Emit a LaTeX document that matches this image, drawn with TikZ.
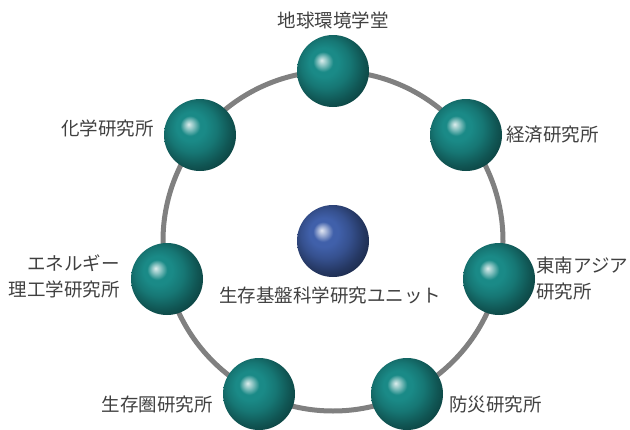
\documentclass[tikz,border=0pt]{standalone}
\usepackage{fontspec}
\setmainfont{Noto Sans CJK JP}
\usetikzlibrary{positioning}
\definecolor{ringgray}{RGB}{128,128,128}
\definecolor{ballteal}{RGB}{26,138,135}
\definecolor{ballblue}{RGB}{64,96,170}
\definecolor{labelgray}{RGB}{64,64,64}
% sphere shadings
\pgfdeclareradialshading{tealball}{\pgfpoint{-8bp}{7.5bp}}{color(0bp)=(ballteal!15!white);color(3bp)=(ballteal!50!white);color(7bp)=(ballteal);color(10bp)=(ballteal);color(17bp)=(ballteal!86!black);color(25bp)=(ballteal!62!black);color(33bp)=(ballteal!42!black);color(50bp)=(ballteal!42!black)}
\pgfdeclareradialshading{blueball}{\pgfpoint{-8bp}{7.5bp}}{color(0bp)=(ballblue!15!white);color(3bp)=(ballblue!50!white);color(7bp)=(ballblue);color(10bp)=(ballblue);color(17bp)=(ballblue!84!black);color(25bp)=(ballblue!58!black);color(33bp)=(ballblue!38!black);color(50bp)=(ballblue!38!black)}

\begin{document}
\begin{tikzpicture}[x=1pt,y=-1pt,ball/.style={circle,minimum size=72pt,inner sep=0pt,shading=#1},ball/.default=tealball,lbl/.style={inner sep=0pt,text=labelgray,font=\fontsize{18.5}{26}\selectfont}]
\useasboundingbox (0,0) rectangle (630,429);
\coordinate (c) at (333,241);
\draw[ringgray,line width=5pt] (c) circle[radius=170];
% spheres on the ring
\node[ball](geo) at (333,71){};
\node[ball](econ) at (466,135){};
\node[ball](sea) at (499,279){};
\node[ball](dpri) at (407,394){};
\node[ball](rish) at (259,394){};
\node[ball](iae) at (167,279){};
\node[ball](icr) at (200,135){};
\node[ball=blueball](unit) at (c){};
% labels
\node[lbl,above=6pt of geo](geolbl){地球環境学堂};
\node[lbl,right=4pt of econ](econlbl){経済研究所};
\node[lbl,align=left,right=1pt of sea](sealbl){東南アジア\\研究所};
\node[lbl,right=6pt of dpri,yshift=-10pt](dprilbl){防災研究所};
\node[lbl,left=10pt of rish,yshift=-10pt](rishlbl){生存圏研究所};
\node[lbl,align=right,left=11pt of iae,yshift=3pt](iaelbl){エネルギー\\理工学研究所};
\node[lbl,left=10pt of icr,yshift=7pt](icrlbl){化学研究所};
\node[lbl,below=9pt of unit,xshift=-3pt](unitlbl){生存基盤科学研究ユニット};
\end{tikzpicture}
\end{document}
